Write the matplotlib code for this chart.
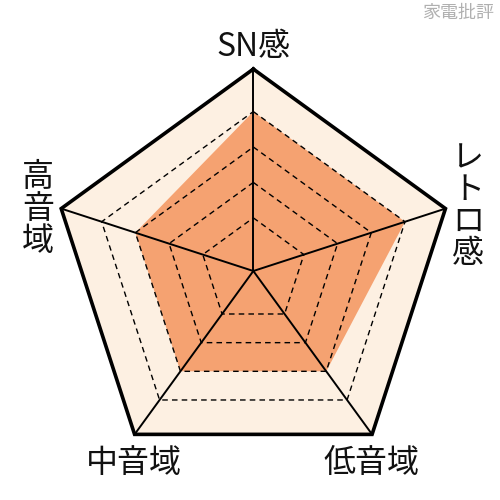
import numpy as np
import matplotlib.pyplot as plt

plt.rcParams['font.family'] = ['Noto Sans CJK JP', 'DejaVu Sans']

# axes in clockwise order starting at the top
labels = ['SN感', 'レトロ感', '低音域', '中音域', '高音域']
scores = [4, 4, 3, 3, 3]
levels = [1, 2, 3, 4]
rmin, rmax = -0.5, 5.2

# where the labels sit (data units, radius 1 = outer frame)
label_pos = [(0.0, 1.11), (1.063, 0.32), (0.587, -0.95), (-0.59, -0.95), (-1.066, 0.307)]
vertical = [False, True, False, False, True]

n = len(labels)
ang = np.deg2rad(90 - 360 / n * np.arange(n))


def to_xy(vals):
    r = (np.asarray(vals, dtype=float) - rmin) / (rmax - rmin)
    x = r * np.cos(ang)
    y = r * np.sin(ang)
    return np.append(x, x[0]), np.append(y, y[0])


fig = plt.figure(figsize=(5, 5), dpi=100)
ax = fig.add_axes([0, 0, 1, 1])
ax.set_xlim(-1.254, 1.221)
ax.set_ylim(-1.134, 1.342)
ax.axis('off')

# background pentagon
ox, oy = to_xy([rmax] * n)
ax.fill(ox, oy, color='#fdf0e2', zorder=1)

# data area
dx, dy = to_xy(scores)
ax.fill(dx, dy, color='#f5a271', zorder=2, linewidth=0)

# dashed rings
for lv in levels:
    gx, gy = to_xy([lv] * n)
    ax.plot(gx, gy, color='black', linestyle=(0, (4, 3)), linewidth=1.0, zorder=3)

# spokes
for a in ang:
    ax.plot([0, np.cos(a)], [0, np.sin(a)], color='black', linewidth=1.4, zorder=4)

# outer frame
ax.plot(ox, oy, color='black', linewidth=2.6, zorder=5, solid_joinstyle='miter')

for lab, (px, py), vert in zip(labels, label_pos, vertical):
    txt = '\n'.join(lab) if vert else lab
    ax.text(px, py, txt, ha='center', va='center', fontsize=23,
            linespacing=1.0, color='#111111')

fig.text(0.916, 0.974, '家電批評', ha='center', va='center', fontsize=13,
         color='#b0b0b0')

fig.savefig('out.png', dpi=100)
